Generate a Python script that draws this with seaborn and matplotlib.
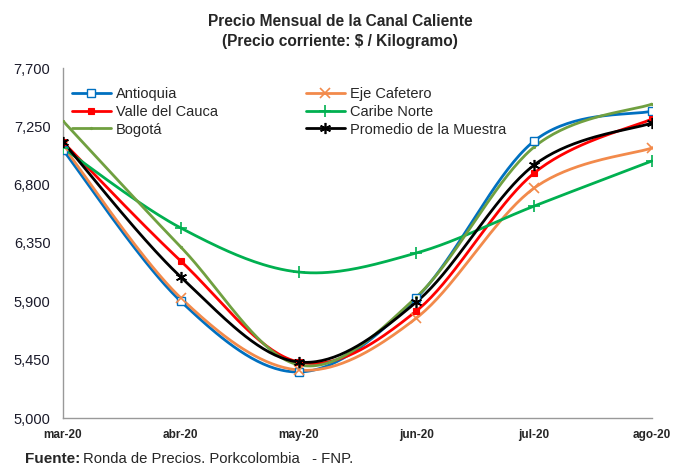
import numpy as np
import pandas as pd
import matplotlib
matplotlib.use("Agg")
import matplotlib.pyplot as plt
import seaborn as sns
from matplotlib.ticker import FuncFormatter
from matplotlib.lines import Line2D

months = ["mar-20", "abr-20", "may-20", "jun-20", "jul-20", "ago-20"]
antioquia = [7068, 5900, 5355, 5926, 7137, 7368]
eje_cafetero = [7098, 5926, 5370, 5771, 6774, 7083]
valle_cauca = [7129, 6211, 5432, 5826, 6890, 7307]
caribe_norte = [7083, 6466, 6126, 6273, 6635, 6983]
bogota = [7291, 6319, 5410, 5933, 7091, 7422]
promedio = [7129, 6088, 5432, 5895, 6952, 7276]
y_ticks = [5000, 5450, 5900, 6350, 6800, 7250, 7700]

series = [
    ("Antioquia", antioquia, "#0070C0", "s", 6, "white", 1.0),
    ("Eje Cafetero", eje_cafetero, "#F28A4B", "x", 7, "none", 1.2),
    ("Valle del Cauca", valle_cauca, "#FF0000", "s", 4, "#FF0000", 0.8),
    ("Caribe Norte", caribe_norte, "#00B050", "+", 8, "none", 1.2),
    ("Bogotá", bogota, "#70A040", ".", 3, "#70A040", 0.8),
    ("Promedio de la Muestra", promedio, "#000000", (6, 2, 0), 8, "#000000", 1.2),
]


def smooth(x, y, n=40, t=1 / 6):
    # Excel-style smoothed line via cubic Bezier segments (Catmull-Rom)
    x = np.asarray(x, float)
    y = np.asarray(y, float)
    P = np.column_stack([x, y])
    out = []
    for i in range(len(P) - 1):
        p0 = P[i - 1] if i > 0 else P[i]
        p1 = P[i]
        p2 = P[i + 1]
        p3 = P[i + 2] if i + 2 < len(P) else P[i + 1]
        c1 = p1 + (p2 - p0) * t
        c2 = p2 - (p3 - p1) * t
        s = np.linspace(0, 1, n, endpoint=(i == len(P) - 2))[:, None]
        seg = ((1 - s) ** 3) * p1 + 3 * ((1 - s) ** 2) * s * c1 + 3 * (1 - s) * s ** 2 * c2 + s ** 3 * p2
        out.append(seg)
    out = np.vstack(out)
    return out[:, 0], out[:, 1]


sns.set_style("white")
plt.rcParams["font.family"] = ["Liberation Sans", "DejaVu Sans"]

fig = plt.figure(figsize=(6.74, 4.67), dpi=100)
ax = fig.add_axes([63 / 674, 1 - 418 / 467, (652 - 63) / 674, (418 - 68) / 467])

xs = np.arange(len(months))
handles = []
for name, vals, color, mk, ms, mfc, mew in series:
    sx, sy = smooth(xs, vals)
    sns.lineplot(x=sx, y=sy, ax=ax, color=color, linewidth=2.0, sort=False, estimator=None)
    ax.plot(xs, vals, linestyle="none", marker=mk, markersize=ms, markeredgecolor=color,
            markerfacecolor=mfc, markeredgewidth=mew, zorder=5)
    handles.append(Line2D([0], [0], color=color, linewidth=2.0, marker=mk, markersize=ms,
                          markeredgecolor=color, markerfacecolor=mfc, markeredgewidth=mew))

ax.set_xlim(0, len(months) - 1)
ax.set_ylim(y_ticks[0], y_ticks[-1])
ax.set_yticks(y_ticks)
ax.yaxis.set_major_formatter(FuncFormatter(lambda v, p: f"{int(v):,}"))
ax.set_xticks(xs)
ax.set_xticklabels(months, fontsize=8.5, fontweight="bold")
ax.tick_params(axis="x", direction="in", length=5, color="#999999", pad=8)
ax.tick_params(axis="y", direction="out", length=3, color="#999999", labelsize=10.5, pad=6)
for lbl in ax.get_yticklabels():
    lbl.set_color("#1a1a2a")
for sp in ["top", "right"]:
    ax.spines[sp].set_visible(False)
for sp in ["left", "bottom"]:
    ax.spines[sp].set_color("#999999")
    ax.spines[sp].set_linewidth(1.0)

order = [0, 2, 4, 1, 3, 5]
leg = ax.legend([handles[i] for i in order], [series[i][0] for i in order], ncol=2,
                loc="upper left", bbox_to_anchor=(0.0, 0.97), frameon=False,
                fontsize=10.5, handlelength=2.7, handletextpad=0.35, columnspacing=6.0,
                labelspacing=0.25, borderaxespad=0.2)

fig.text(0.505, 0.953, "Precio Mensual de la Canal Caliente", ha="center", va="center",
         fontsize=11.2, fontweight="bold")
fig.text(0.505, 0.911, "(Precio corriente: $ / Kilogramo)", ha="center", va="center",
         fontsize=11.2, fontweight="bold")

t1 = fig.text(25 / 674, 1 - 459 / 467, "Fuente:", ha="left", va="center", fontsize=11,
              fontweight="bold")
fig.canvas.draw()
bb = t1.get_window_extent()
fig.text(bb.x1 / 674 + 0.004, 1 - 459 / 467, "Ronda de Precios. Porkcolombia   - FNP.",
         ha="left", va="center", fontsize=10.7)

fig.savefig("out.png", dpi=100)
